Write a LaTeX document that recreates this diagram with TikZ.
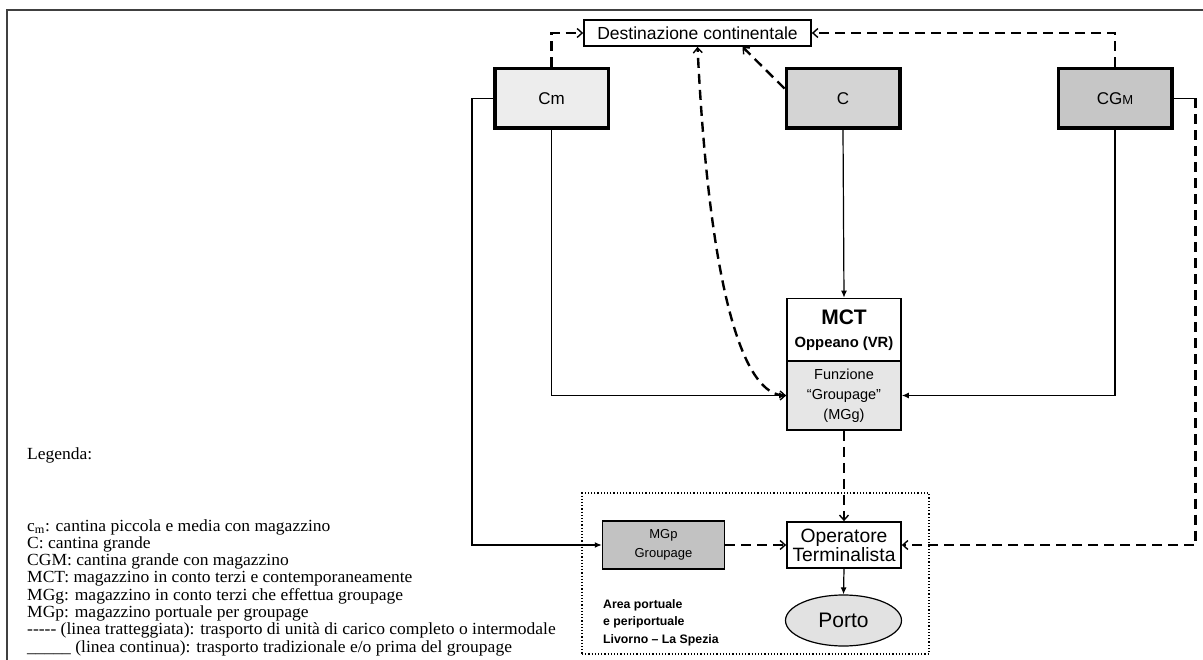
\documentclass[tikz,border=0pt]{standalone}
\usepackage{fontspec}
\setmainfont{Liberation Serif}
\setsansfont{Liberation Sans}
\newfontfamily\legfont[FakeStretch=1.03]{Liberation Serif}
\usetikzlibrary{arrows.meta,shapes.geometric,calc}
\definecolor{fcm}{HTML}{EDEDED}
\definecolor{fc}{HTML}{D4D4D4}
\definecolor{fcgm}{HTML}{C6C6C6}
\definecolor{fmgg}{HTML}{E6E6E6}
\definecolor{fmgp}{HTML}{C2C2C2}
\definecolor{fporto}{HTML}{E2E2E2}
\begin{document}
\begin{tikzpicture}[x=1pt,y=-1pt,
  >={Straight Barb[length=5pt,width=9pt,line width=1.4pt]},
  cantina/.style={draw, line width=3.5pt, minimum width=113.5pt, minimum height=59.5pt,
     inner sep=0pt, font=\sffamily\fontsize{17}{20}\selectfont},
  box/.style={draw, line width=1.7pt, inner sep=0pt, align=center, font=\sffamily},
  sol/.style={line width=1.2pt, -{Latex[length=7pt,width=6pt]}},
  plain/.style={line width=1.2pt},
  dsh/.style={line width=2.4pt, dash pattern=on 10pt off 6pt},
  legtext/.style={anchor=west, align=left, inner sep=0pt, font=\legfont\fontsize{17}{17.3}\selectfont},
]
\useasboundingbox (0,0) rectangle (1203,660);
% frame
\draw[line width=2pt, draw=black!75] (7,660) -- (7,10.5) -- (1203,10.5);

% nodes
\node[box, minimum width=227pt, minimum height=26pt, font=\sffamily\fontsize{17.5}{19}\selectfont]
  (dest) at (697.5,33) {Destinazione continentale};
\node[cantina, fill=fcm] (cm) at (551.5,98.5) {Cm};
\node[cantina, fill=fc] (c) at (843,98.5) {C};
\node[cantina, fill=fcgm] (cgm) at (1115,98.5) {CG{\fontsize{13}{13}\selectfont M}};

\node[box, minimum width=114pt, minimum height=63pt, fill=white,
  font=\sffamily\bfseries\fontsize{14.8}{23}\selectfont] (mct) at (844,330)
  {{\fontsize{21}{23}\selectfont MCT}\\Oppeano (VR)};
\node[box, minimum width=114pt, minimum height=69pt, fill=fmgg,
  font=\sffamily\fontsize{14.5}{20}\selectfont] (mgg) at (844,395.5)
  {Funzione\\“Groupage”\\(MGg)};

\node[draw, dotted, line width=1.2pt, minimum width=347pt, minimum height=161pt, inner sep=0pt]
  (area) at (755.5,573.5) {};
\node[box, line width=1.5pt, minimum width=122pt, minimum height=48pt, fill=fmgp,
  font=\sffamily\fontsize{13}{19}\selectfont] (mgp) at (663.5,545) {MGp\\Groupage};
\node[box, minimum width=114pt, minimum height=46pt, fill=white,
  font=\sffamily\fontsize{19.3}{19}\selectfont] (op) at (844,545) {Operatore\\Terminalista};
\node[draw, ellipse, line width=1.2pt, fill=fporto, minimum width=116pt, minimum height=51pt,
  inner sep=0pt, font=\sffamily\fontsize{21}{24}\selectfont] (porto) at (843.5,620.5) {Porto};
\node[anchor=west, align=left, inner sep=0pt,
  font=\sffamily\bfseries\fontsize{12.3}{17.5}\selectfont] (arealbl) at (603,622.5)
  {Area portuale\\e periportuale\\Livorno – La Spezia};

% legend
\node[legtext] (leg) at (27,455) {Legenda:};
\node[legtext] (legitems) at (27,587.5)
  {c\textsubscript{m}: cantina piccola e media con magazzino\\
   C: cantina grande\\
   CGM: cantina grande con magazzino\\
   MCT: magazzino in conto terzi e contemporaneamente\\
   MGg: magazzino in conto terzi che effettua groupage\\
   MGp: magazzino portuale per groupage\\
   -{}-{}-{}-{}- (linea tratteggiata): trasporto di unità di carico completo o intermodale\\
   \_\_\_\_\_ (linea continua): trasporto tradizionale e/o prima del groupage};

% solid connectors
\draw[sol] (cm.south) |- (mgg.west);
\draw[sol] (cm.west) -- ++(-21,0) coordinate (cmleft) |- (mgp.west);
\draw[sol] (c.south) -- (mct.north);
\draw[sol] (cgm.south) |- (mgg.east);
\draw[plain] (cgm.east) -- ++(22,0) coordinate (cgmright);
\draw[sol] (op.south) -- (porto.north);

% dashed connectors
\draw[dsh,->] (cm.north) |- (dest.west);
\draw[dsh,->] (cgm.north) |- (dest.east);
\draw[dsh,->] ([yshift=10pt]c.west) -- ([xshift=45pt]dest.south);
\draw[dsh,<->] (mgg.west) .. controls (745,395.5) and (710,300) .. (dest.south);
\draw[dsh,->] (mgg.south) -- (op.north);
\draw[dsh,->] (mgp.east) -- (op.west);
\draw[dsh,->] (cgmright) |- (op.east);
\end{tikzpicture}
\end{document}
